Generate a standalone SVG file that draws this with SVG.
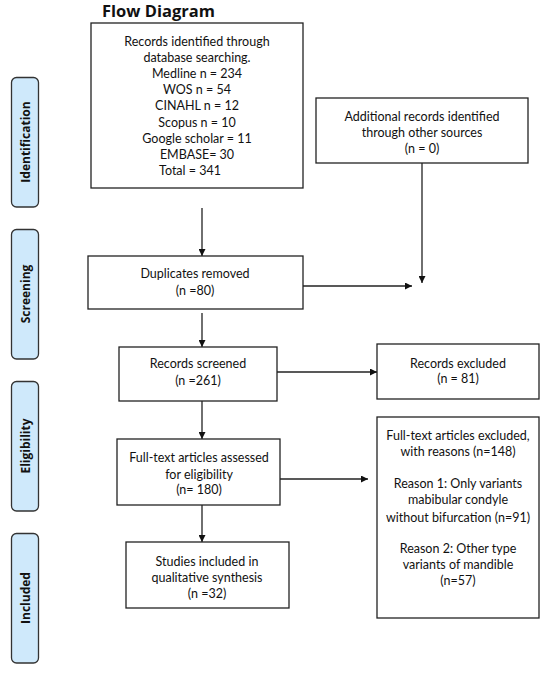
<svg xmlns="http://www.w3.org/2000/svg" width="550" height="673" viewBox="0 0 550 673">
<defs>
<style>
.box{fill:#fff;stroke:#222;stroke-width:1.3}
.stage{fill:#cfe9fb;stroke:#333;stroke-width:1.3}
.t{font-family:Lato,"Liberation Sans",sans-serif;font-size:12.5px;fill:#111;text-anchor:middle}
.s{font-family:"Open Sans","Liberation Sans",sans-serif;font-size:12px;font-weight:bold;fill:#111;text-anchor:middle}
.title{font-family:"Open Sans","Liberation Sans",sans-serif;font-size:16.5px;font-weight:bold;fill:#111}
.c{stroke:#222;stroke-width:1.3;fill:none;marker-end:url(#ah)}
</style>
<marker id="ah" viewBox="0 0 10 10" refX="10" refY="5" markerWidth="7" markerHeight="7" markerUnits="userSpaceOnUse" orient="auto">
<path d="M0,0 L10,5 L0,10 z" fill="#111"/>
</marker>
</defs>
<rect width="550" height="673" fill="#fff"/>
<text class="title" x="102" y="17">Flow Diagram</text>

<g id="stage-identification"><rect class="stage" x="11.5" y="77.5" width="27" height="129.5" rx="5"/><text class="s" transform="translate(29.5,142) rotate(-90)">Identification</text></g>
<g id="stage-screening"><rect class="stage" x="11.5" y="229.5" width="27" height="129.5" rx="5"/><text class="s" transform="translate(29.5,294) rotate(-90)">Screening</text></g>
<g id="stage-eligibility"><rect class="stage" x="11.5" y="381.5" width="27" height="129.5" rx="5"/><text class="s" transform="translate(29.5,446) rotate(-90)">Eligibility</text></g>
<g id="stage-included"><rect class="stage" x="11.5" y="533.5" width="27" height="129.5" rx="5"/><text class="s" transform="translate(29.5,598) rotate(-90)">Included</text></g>

<g id="connectors">
<line class="c" x1="202" y1="208" x2="202" y2="256"/>
<line class="c" x1="422" y1="163" x2="422" y2="283"/>
<line class="c" x1="303" y1="286" x2="412" y2="286"/>
<line class="c" x1="202" y1="313" x2="202" y2="347"/>
<line class="c" x1="277" y1="372" x2="377" y2="372"/>
<line class="c" x1="202" y1="401" x2="202" y2="439"/>
<line class="c" x1="280" y1="479" x2="368" y2="479"/>
<line class="c" x1="202" y1="505" x2="202" y2="542"/>
</g>

<g id="records-identified"><rect class="box" x="91" y="23" width="212" height="165"/>
<text class="t" x="197" y="45.5">Records identified through</text>
<text class="t" x="197" y="62">database searching.</text>
<text class="t" x="197" y="77.5">Medline n = 234</text>
<text class="t" x="197" y="94">WOS n = 54</text>
<text class="t" x="197" y="110">CINAHL n = 12</text>
<text class="t" x="197" y="126.5">Scopus n = 10</text>
<text class="t" x="197" y="142.5">Google scholar = 11</text>
<text class="t" x="197" y="158.5">EMBASE= 30</text>
<text class="t" x="190" y="175">Total = 341</text>
</g>

<g id="additional-records"><rect class="box" x="316" y="98" width="212" height="65"/>
<text class="t" x="422" y="120.5">Additional records identified</text>
<text class="t" x="422" y="137">through other sources</text>
<text class="t" x="422" y="152.5">(n = 0)</text>
</g>

<g id="duplicates"><rect class="box" x="88" y="256" width="215" height="53"/>
<text class="t" x="195" y="277.5">Duplicates removed</text>
<text class="t" x="195" y="295">(n =80)</text>
</g>

<g id="screened"><rect class="box" x="119" y="347" width="158" height="54"/>
<text class="t" x="198" y="367.5">Records screened</text>
<text class="t" x="198" y="384.5">(n =261)</text>
</g>

<g id="excluded"><rect class="box" x="377" y="344" width="162" height="55"/>
<text class="t" x="458" y="367.5">Records excluded</text>
<text class="t" x="458" y="382.5">(n = 81)</text>
</g>

<g id="fulltext"><rect class="box" x="117" y="439" width="163" height="66"/>
<text class="t" x="199" y="461.5">Full-text articles assessed</text>
<text class="t" x="199" y="478.5">for eligibility</text>
<text class="t" x="199" y="493.5">(n= 180)</text>
</g>

<g id="fulltext-excluded"><rect class="box" x="377" y="417" width="162" height="201"/>
<text class="t" x="458" y="439.5">Full-text articles excluded,</text>
<text class="t" x="458" y="455.5">with reasons (n=148)</text>
<text class="t" x="458" y="487.5">Reason 1: Only variants</text>
<text class="t" x="458" y="503.5">mabibular condyle</text>
<text class="t" x="458" y="521.5">without bifurcation (n=91)</text>
<text class="t" x="458" y="552.5">Reason 2: Other type</text>
<text class="t" x="458" y="568.5">variants of mandible</text>
<text class="t" x="458" y="584.5">(n=57)</text>
</g>

<g id="included-studies"><rect class="box" x="126" y="542" width="163" height="66"/>
<text class="t" x="207" y="565.5">Studies included in</text>
<text class="t" x="207" y="581.5">qualitative synthesis</text>
<text class="t" x="207" y="597.5">(n =32)</text>
</g>
</svg>
